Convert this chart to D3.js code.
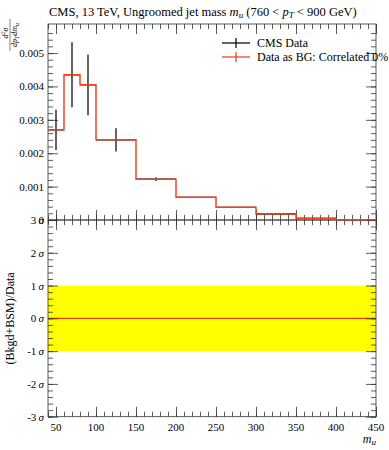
<!DOCTYPE html>
<html>
<head>
<meta charset="utf-8">
<script src="https://cdn.jsdelivr.net/npm/d3@7"></script>
<style>
  body { margin: 0; background: #fff; }
  svg { display: block; font-family: "Liberation Serif", "DejaVu Serif", serif; }
  .tick text { font-size: 11px; }
</style>
</head>
<body>
<svg width="389" height="450"></svg>
<script>
// jet mass bins (GeV) and measured distribution
const binEdges = [40, 60, 80, 100, 150, 200, 250, 300, 350, 400, 450];
const dataValues = [0.00270, 0.00435, 0.00405, 0.00240, 0.00122, 0.00068, 0.00038, 0.00018, 0.00005, 0.00001];
const dataErrors = [0.00060, 0.00097, 0.00091, 0.00035, 0.00005, 0.00002, 0.00001, 0.000005, 0.000003, 0.000001];
const bgValues = [0.00270, 0.00435, 0.00405, 0.00240, 0.00122, 0.00068, 0.00038, 0.00018, 0.00005, 0.00001];
const mainTicks = [0, 0.001, 0.002, 0.003, 0.004, 0.005];
const mainTickLabels = ["0", "0.001", "0.002", "0.003", "0.004", "0.005"];
const sigmaTicks = [-3, -2, -1, 0, 1, 2, 3];
const xTicks = [50, 100, 150, 200, 250, 300, 350, 400, 450];

let svg = d3.select("svg");

const left = 48, right = 376;
const mainTop = 24, mainBottom = 220, ratioBottom = 416.7;

// scales
let x = d3.scaleLinear().domain([40, 450]).range([left, right]);
let y = d3.scaleLinear().domain([0, 0.00587]).range([mainBottom, mainTop]);
let yr = d3.scaleLinear().domain([-3, 3]).range([ratioBottom, mainBottom]);

const xMinor = d3.range(40, 451, 10);
const yMinor = d3.range(0, 0.0058, 0.0002);
const rMinor = d3.range(-3, 3.01, 0.2);

// ratio band
svg.append("rect")
    .attr("x", left).attr("width", right - left)
    .attr("y", yr(1)).attr("height", yr(-1) - yr(1))
    .attr("fill", "#ffff00");
svg.append("line")
    .attr("x1", left).attr("x2", right)
    .attr("y1", yr(0)).attr("y2", yr(0))
    .attr("stroke", "#e8401c").attr("stroke-width", 1.3);

// helper to draw inward ticks
function ticks(axisFn, scale, values, size, transformAttr) {
    let g = svg.append("g")
        .attr("transform", transformAttr)
        .call(axisFn(scale).tickValues(values).tickSize(size).tickFormat(""));
    g.select(".domain").remove();
    g.selectAll(".tick line").attr("stroke", "#333").attr("stroke-width", 0.8);
    return g;
}

// main panel ticks
ticks(d3.axisBottom, x, xMinor, -5, `translate(0,${mainBottom})`);
ticks(d3.axisBottom, x, xTicks, -10, `translate(0,${mainBottom})`);
ticks(d3.axisTop, x, xMinor, -5, `translate(0,${mainTop})`);
ticks(d3.axisTop, x, xTicks, -10, `translate(0,${mainTop})`);
ticks(d3.axisLeft, y, yMinor, -5, `translate(${left},0)`);
ticks(d3.axisLeft, y, mainTicks, -10, `translate(${left},0)`);
ticks(d3.axisRight, y, yMinor, -5, `translate(${right},0)`);
ticks(d3.axisRight, y, mainTicks, -10, `translate(${right},0)`);

// ratio ticks
ticks(d3.axisTop, x, xMinor, -5, `translate(0,${mainBottom})`);
ticks(d3.axisTop, x, xTicks, -10, `translate(0,${mainBottom})`);
ticks(d3.axisBottom, x, xMinor, -5, `translate(0,${ratioBottom})`);
ticks(d3.axisBottom, x, xTicks, -10, `translate(0,${ratioBottom})`);
ticks(d3.axisLeft, yr, rMinor, -5, `translate(${left},0)`);
ticks(d3.axisLeft, yr, sigmaTicks, -10, `translate(${left},0)`);
ticks(d3.axisRight, yr, rMinor, -5, `translate(${right},0)`);
ticks(d3.axisRight, yr, sigmaTicks, -10, `translate(${right},0)`);

// frames
svg.append("rect").attr("x", left).attr("y", mainTop)
    .attr("width", right - left).attr("height", mainBottom - mainTop)
    .attr("fill", "none").attr("stroke", "#333").attr("stroke-width", 0.8);
svg.append("rect").attr("x", left).attr("y", mainBottom)
    .attr("width", right - left).attr("height", ratioBottom - mainBottom)
    .attr("fill", "none").attr("stroke", "#333").attr("stroke-width", 0.8);

// tick labels
svg.append("g").selectAll("text")
    .data(mainTicks).enter().append("text")
    .attr("x", left - 4).attr("y", d => y(d) + 4)
    .attr("text-anchor", "end").attr("font-size", 11)
    .text((d, i) => mainTickLabels[i]);

let sl = svg.append("g").selectAll("text")
    .data(sigmaTicks).enter().append("text")
    .attr("x", left - 4).attr("y", d => yr(d) + 4)
    .attr("text-anchor", "end").attr("font-size", 11);
sl.append("tspan").text(d => d + "\u2009");
sl.append("tspan").attr("font-style", "italic").text("σ");

svg.append("g").selectAll("text")
    .data(xTicks).enter().append("text")
    .attr("x", d => x(d)).attr("y", ratioBottom + 14)
    .attr("text-anchor", "middle").attr("font-size", 11)
    .text(d => d);

// black data error bars
let bins = dataValues.map((v, i) => ({lo: binEdges[i], hi: binEdges[i + 1], v: v, e: dataErrors[i]}));
let eb = svg.append("g").attr("stroke", "#111").attr("stroke-width", 1.3);
eb.selectAll("line.v").data(bins).enter().append("line")
    .attr("x1", d => x((d.lo + d.hi) / 2)).attr("x2", d => x((d.lo + d.hi) / 2))
    .attr("y1", d => y(d.v - d.e)).attr("y2", d => y(d.v + d.e));
eb.selectAll("line.h").data(bins).enter().append("line")
    .attr("x1", d => x(d.lo)).attr("x2", d => x(d.hi))
    .attr("y1", d => y(d.v)).attr("y2", d => y(d.v));

// red step histogram
let steps = [];
bgValues.forEach((v, i) => {
    steps.push([binEdges[i], v]);
    steps.push([binEdges[i + 1], v]);
});
svg.append("path")
    .datum(steps)
    .attr("fill", "none")
    .attr("stroke", "#ee4422").attr("stroke-width", 1.5)
    .attr("d", d3.line().x(d => x(d[0])).y(d => y(d[1])));

// title
let title = svg.append("text").attr("x", 49).attr("y", 16).attr("font-size", 12.5);
title.append("tspan").text("CMS, 13 TeV, Ungroomed jet mass ");
title.append("tspan").attr("font-style", "italic").text("m");
title.append("tspan").attr("font-style", "italic").attr("font-size", 9).attr("dy", 2).text("u");
title.append("tspan").attr("dy", -2).text(" (760 < ");
title.append("tspan").attr("font-style", "italic").text("p");
title.append("tspan").attr("font-style", "italic").attr("font-size", 9).attr("dy", 2).text("T");
title.append("tspan").attr("dy", -2).text(" < 900 GeV)");

// legend
const legendItems = [
    {label: "CMS Data", color: "#111", y: 43},
    {label: "Data as BG: Correlated 0%", color: "#ee4422", y: 57}
];
let lg = svg.append("g").selectAll("g").data(legendItems).enter().append("g");
lg.append("line").attr("x1", 222).attr("x2", 250).attr("y1", d => d.y).attr("y2", d => d.y)
    .attr("stroke", d => d.color).attr("stroke-width", 1.3);
lg.append("line").attr("x1", 236).attr("x2", 236).attr("y1", d => d.y - 5).attr("y2", d => d.y + 5)
    .attr("stroke", d => d.color).attr("stroke-width", 1.3);
lg.append("text").attr("x", 257).attr("y", d => d.y + 4).attr("font-size", 12).text(d => d.label);

// x axis label
let xl = svg.append("text").attr("x", 376).attr("y", 443).attr("text-anchor", "end")
    .attr("font-size", 12).attr("font-style", "italic");
xl.append("tspan").text("m");
xl.append("tspan").attr("font-size", 9).attr("dy", 2).text("u");

// ratio y label
svg.append("text")
    .attr("transform", `translate(14,${yr(0)}) rotate(-90)`)
    .attr("text-anchor", "middle").attr("font-size", 12)
    .text("(Bkgd+BSM)/Data");

// main y label: d²σ / dpT dmu as a small rotated fraction
let yl = svg.append("g").attr("transform", "translate(10,19) rotate(-90)");
let num = yl.append("text").attr("x", -14).attr("y", -2).attr("text-anchor", "middle")
    .attr("font-size", 8).attr("font-style", "italic");
num.append("tspan").text("d");
num.append("tspan").attr("font-size", 6).attr("dy", -3).text("2");
num.append("tspan").attr("dy", 3).text("σ");
yl.append("line").attr("x1", -32).attr("x2", 0).attr("y1", 0).attr("y2", 0)
    .attr("stroke", "#333").attr("stroke-width", 0.6);
let den = yl.append("text").attr("x", -16).attr("y", 7).attr("text-anchor", "middle")
    .attr("font-size", 8).attr("font-style", "italic");
den.append("tspan").text("dp");
den.append("tspan").attr("font-size", 6).attr("dy", 1.5).text("T");
den.append("tspan").attr("dy", -1.5).text("dm");
den.append("tspan").attr("font-size", 6).attr("dy", 1.5).text("u");
</script>
</body>
</html>
